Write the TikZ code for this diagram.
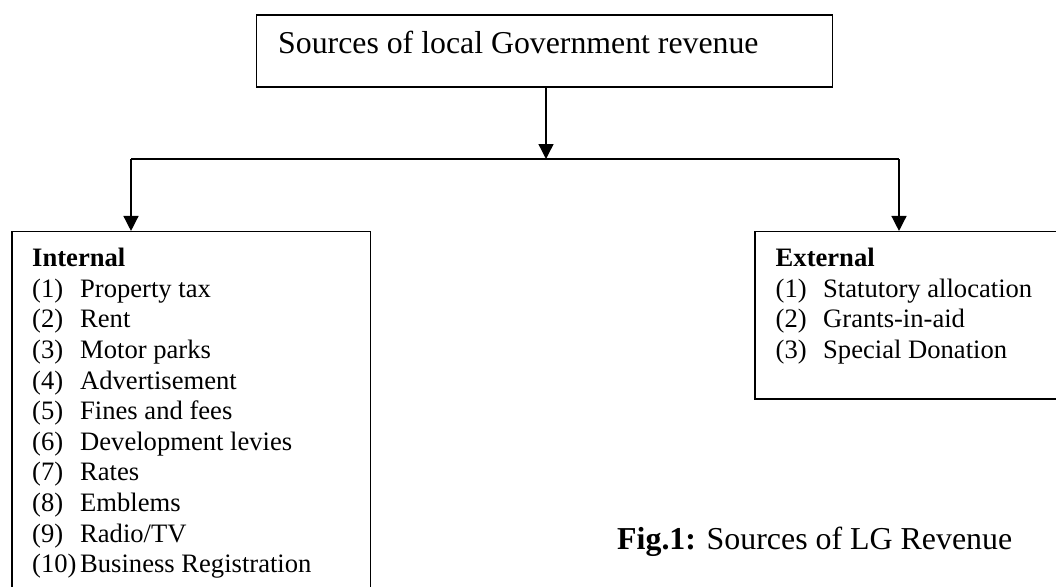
\documentclass[tikz,border=0pt]{standalone}
\usepackage{fontspec}
\setmainfont{Liberation Serif}
\usetikzlibrary{arrows.meta}
\begin{document}
\begin{tikzpicture}[x=1pt,y=-1pt,
  box/.style={draw,line width=1.5pt,rectangle,inner sep=0pt},
  conn/.style={line width=1.4pt},
  arr/.style={conn,-{Triangle[width=15pt,length=15pt]}},
  txt/.style={inner sep=0pt,anchor=base west},
  listfont/.style={font=\fontsize{26.6}{30.6}\selectfont}]
\useasboundingbox (0,0) rectangle (1056,586);
\clip (0,0) rectangle (1056,586);
% boxes
\node[box,minimum width=576pt,minimum height=72pt] (top) at (544.7,51) {};
\node[txt,font=\fontsize{31.8}{38}\selectfont] (toptext) at (278,54) {Sources of local Government revenue};
\node[box,minimum width=358.7pt,minimum height=408.3pt] (int) at (191.35,435.85) {};
\node[box,minimum width=325pt,minimum height=167.3pt] (ext) at (917.5,315.35) {};
% list texts
\node[txt,listfont] (inttext) at (32,266.7) {\begin{tabular}[t]{@{}p{48pt}@{}l@{}}
\multicolumn{2}{@{}l@{}}{\textbf{Internal}}\\
(1) & Property tax\\
(2) & Rent\\
(3) & Motor parks\\
(4) & Advertisement\\
(5) & Fines and fees\\
(6) & Development levies\\
(7) & Rates\\
(8) & Emblems\\
(9) & Radio/TV\\
(10) & Business Registration
\end{tabular}};
\node[txt,listfont] (exttext) at (775.5,266.7) {\begin{tabular}[t]{@{}p{47.5pt}@{}l@{}}
\multicolumn{2}{@{}l@{}}{\textbf{External}}\\
(1) & Statutory allocation\\
(2) & Grants-in-aid\\
(3) & Special Donation
\end{tabular}};
% caption
\node[txt,font=\fontsize{31.9}{36}\selectfont] (caption) at (617,549) {\textbf{Fig.1:} Sources of LG Revenue};
% connectors
\coordinate (j) at (546,159);
\coordinate (jl) at (131,159);
\coordinate (jr) at (899,159);
\draw[arr] (top.south -| j) -- (j);
\draw[conn] (jl) -- (jr);
\draw[arr] (jl) -- (jl |- int.north);
\draw[arr] (jr) -- (jr |- ext.north);
\end{tikzpicture}
\end{document}
